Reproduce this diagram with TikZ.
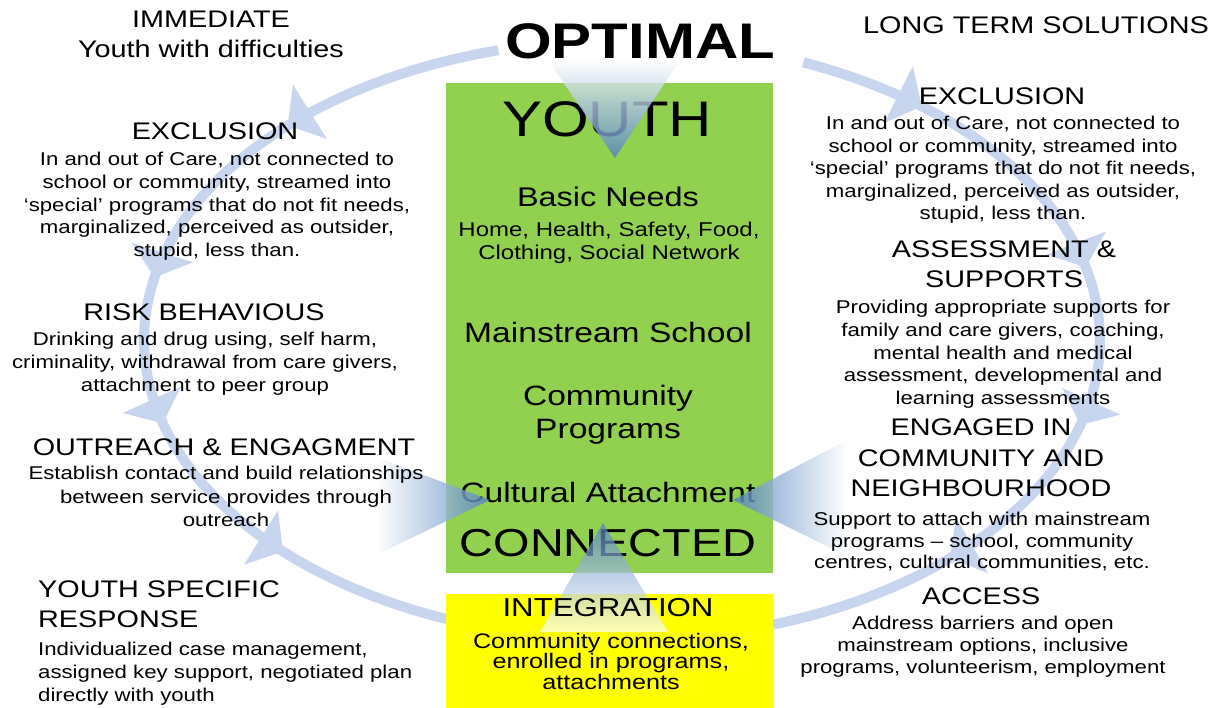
\documentclass[tikz,border=0pt]{standalone}
\usepackage{fontspec}
\setmainfont{Liberation Sans}[FakeStretch=1.2]
\usetikzlibrary{arrows.meta,decorations.markings}
\definecolor{boxgreen}{RGB}{146,208,80}
\definecolor{boxyellow}{RGB}{255,255,0}
\definecolor{arcblue}{RGB}{200,213,238}
\definecolor{gradblue}{RGB}{79,129,189}
\newcommand{\archead}{\arrow[arcblue]{Triangle[width=64pt,length=26pt,line width=0pt]}}
\tikzset{
  hd/.style={font=\fontsize{24}{30}\selectfont, inner sep=0pt, align=center, text=black},
  bd/.style={font=\fontsize{18.5}{23}\selectfont, inner sep=0pt, align=center, text=black, anchor=north},
  bigt/.style={inner sep=0pt, text=black},
  flow/.style={line width=10pt, draw=arcblue, postaction={decorate}},
  panel/.style={inner sep=0pt, anchor=north west, minimum width=327pt},
  glow/.style={opacity=0.8},
}
\begin{document}
\begin{tikzpicture}[x=1pt,y=-1pt]
\useasboundingbox (0,0) rectangle (1230,707);
\fill[white] (0,0) rectangle (1230,707);

% circular flow arcs
\draw[flow, decoration={markings,
    mark=at position 0.24 with {\archead},
    mark=at position 0.46 with {\archead},
    mark=at position 0.62 with {\archead},
    mark=at position 0.81 with {\archead}}]
  plot[domain=105:248.5, samples=90] ({622+478*cos(\x)},{340-300*sin(\x)});
\draw[flow, decoration={markings,
    mark=at position 0.14 with {\archead},
    mark=at position 0.40 with {\archead},
    mark=at position 0.58 with {\archead},
    mark=at position 0.79 with {\archead}}]
  plot[domain=0:139.3, samples=90] ({622+478*cos(67.7-\x)},{340-300*sin(67.7-\x)});

% central panels
\node[panel, fill=boxgreen, minimum height=490pt] (green) at (446,83) {};
\node[panel, fill=boxyellow, minimum height=114pt] (yellow) at (446,594) {};

% central texts
\node[bigt, font=\bfseries\fontsize{50}{60}\selectfont] (optimal) at (640,41) {OPTIMAL};
\node[bigt, font=\fontsize{50}{60}\selectfont] (youth) at (607,119) {YOUTH};
\node[bigt, font=\fontsize{27}{32}\selectfont] (basic) at (608,197) {Basic Needs};
\node[bigt, font=\fontsize{20}{23}\selectfont, align=center, anchor=north] (home) at (609,222) {Home, Health, Safety, Food,\\Clothing, Social Network};
\node[bigt, font=\fontsize{28}{33}\selectfont] (mainst) at (608,332) {Mainstream School};
\node[bigt, font=\fontsize{28}{33}\selectfont, align=center, anchor=north] (commp) at (608,385) {Community\\Programs};
\node[bigt, font=\fontsize{28}{33}\selectfont] (cult) at (608,492) {Cultural Attachment};
\node[bigt, font=\fontsize{39}{46}\selectfont] (conn) at (608,543) {CONNECTED};

% converging gradient arrows
\shade[glow, top color=white, bottom color=gradblue] (548,60) -- (680,60) -- (615,158) -- cycle;
\shade[glow, left color=white, right color=gradblue] (376,457) -- (490,500) -- (376,555) -- cycle;
\shade[glow, left color=gradblue, right color=white] (847,440) -- (733,500) -- (847,556) -- cycle;
\shade[glow, top color=gradblue, bottom color=white, opacity=0.7] (603,523) -- (668,632) -- (540,632) -- cycle;

\node[bigt, font=\fontsize{26}{30}\selectfont] (integ) at (608,608) {INTEGRATION};
\node[bigt, font=\fontsize{21}{20.5}\selectfont, align=center, anchor=north] (integb) at (611,633) {Community connections,\\enrolled in programs,\\attachments};

% left column
\node[hd, anchor=north] (imm) at (211,11) {IMMEDIATE\\Youth with difficulties};
\node[hd] (lexh) at (215,131) {EXCLUSION};
\node[bd, font=\fontsize{18.5}{22.75}\selectfont] (lexb) at (217,152) {In and out of Care, not connected to\\school or community, streamed into\\‘special’ programs that do not fit needs,\\marginalized,  perceived as outsider,\\stupid, less than.};
\node[hd] (riskh) at (204,312) {RISK BEHAVIOUS};
\node[bd] (riskb) at (205,332) {Drinking and drug using, self harm,\\criminality, withdrawal from care givers,\\attachment to peer group};
\node[hd] (outh) at (224,447) {OUTREACH \& ENGAGMENT};
\node[bd, font=\fontsize{18.5}{23.5}\selectfont] (outb) at (226,466) {Establish contact and build relationships\\between service provides through\\outreach};
\node[hd, align=left, anchor=north west] (ysh) at (38,581) {YOUTH SPECIFIC\\RESPONSE};
\node[bd, align=left, anchor=north west] (ysb) at (38,642) {Individualized case management,\\assigned key support, negotiated plan\\directly with youth};

% right column
\node[hd] (lts) at (1036,25) {LONG TERM SOLUTIONS};
\node[hd] (rexh) at (1002,96) {EXCLUSION};
\node[bd, font=\fontsize{18.5}{22.5}\selectfont] (rexb) at (1003,116) {In and out of Care, not connected to\\school or community, streamed into\\‘special’ programs that do not fit needs,\\marginalized, perceived as outsider,\\stupid, less than.};
\node[hd, anchor=north] (assh) at (1004,241) {ASSESSMENT \&\\SUPPORTS};
\node[bd, font=\fontsize{18.5}{22.75}\selectfont] (assb) at (1003,300) {Providing appropriate supports for\\family and care givers, coaching,\\mental health and medical\\assessment, developmental and\\learning assessments};
\node[hd, anchor=north, font=\fontsize{24}{30.5}\selectfont] (engh) at (981,419) {ENGAGED IN\\COMMUNITY AND\\NEIGHBOURHOOD};
\node[bd, font=\fontsize{18.5}{21.5}\selectfont] (engb) at (982,512) {Support to attach with mainstream\\programs – school, community\\centres, cultural communities, etc.};
\node[hd] (acch) at (981,596) {ACCESS};
\node[bd, font=\fontsize{18.5}{22}\selectfont] (accb) at (983,616) {Address barriers and open\\mainstream options, inclusive\\programs,  volunteerism, employment};
\end{tikzpicture}
\end{document}
